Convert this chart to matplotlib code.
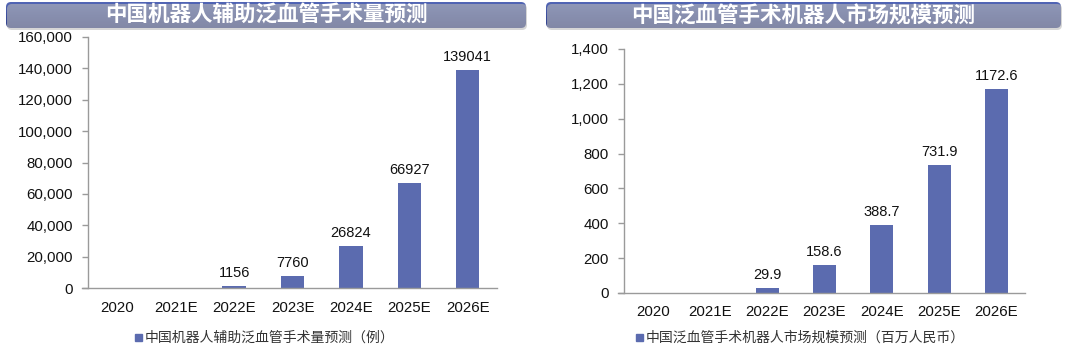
import matplotlib
matplotlib.use("Agg")
import matplotlib.pyplot as plt
import numpy as np
from matplotlib.patches import FancyBboxPatch, Rectangle
from matplotlib.ticker import FuncFormatter
from matplotlib.colors import LinearSegmentedColormap

categories = ["2020", "2021E", "2022E", "2023E", "2024E", "2025E", "2026E"]
surgery_volume = [None, None, 1156, 7760, 26824, 66927, 139041]
market_size = [None, None, 29.9, 158.6, 388.7, 731.9, 1172.6]
surgery_labels = ["", "", "1156", "7760", "26824", "66927", "139041"]
market_labels = ["", "", "29.9", "158.6", "388.7", "731.9", "1172.6"]

title_left = "中国机器人辅助泛血管手术量预测"
title_right = "中国泛血管手术机器人市场规模预测"
legend_left = "中国机器人辅助泛血管手术量预测（例）"
legend_right = "中国泛血管手术机器人市场规模预测（百万人民币）"

W, H = 1080, 351
BAR = "#5B6BAF"
NUM_FONT = ["Liberation Sans", "DejaVu Sans"]
CJK = ["Noto Sans CJK SC", "DejaVu Sans"]

fig = plt.figure(figsize=(W / 100, H / 100), dpi=100)
fig.patch.set_facecolor("white")


def px_rect(x0, y0, x1, y1):
    return [x0 / W, (H - y1) / H, (x1 - x0) / W, (y1 - y0) / H]


def draw_panel(rect, values, labels, ymax, step, fmt, legend_text, leg_x):
    ax = fig.add_axes(px_rect(*rect))
    x = np.arange(len(categories))
    vals = [np.nan if v is None else v for v in values]
    ax.bar(x, vals, width=0.4, color=BAR, zorder=2)
    for xi, v, lab in zip(x, vals, labels):
        if lab:
            ax.text(xi, v + ymax * 0.025, lab, ha="center", va="bottom",
                    fontsize=10.5, family=NUM_FONT, color="#111111")
    ax.set_xlim(-0.5, len(categories) - 0.5)
    ax.set_ylim(0, ymax)
    ax.set_yticks(np.arange(0, ymax + step / 2, step))
    ax.yaxis.set_major_formatter(FuncFormatter(fmt))
    ax.set_xticks(x)
    ax.set_xticklabels(categories)
    for sp in ["top", "right"]:
        ax.spines[sp].set_visible(False)
    for sp in ["left", "bottom"]:
        ax.spines[sp].set_color("#9a9a9a")
        ax.spines[sp].set_linewidth(1.0)
    ax.spines["bottom"].set_bounds(-0.5 - 0.1, len(categories) - 0.5)
    ax.tick_params(axis="y", direction="out", length=4, width=1, color="#9a9a9a",
                   labelsize=10.8, labelcolor="#111111", pad=7)
    ax.tick_params(axis="x", length=0, labelsize=10.8, labelcolor="#111111", pad=9)
    for t in ax.get_xticklabels() + ax.get_yticklabels():
        t.set_family(NUM_FONT)
    # legend
    fig.patches.append(Rectangle(((leg_x - 3) / W, (H - 341) / H), 7 / W, 7 / H,
                                 transform=fig.transFigure, color=BAR))
    fig.text((leg_x + 7) / W, (H - 338) / H, legend_text, fontsize=10,
             family=CJK, color="#333333", va="center", ha="left")
    return ax


draw_panel((88, 37, 497, 288), surgery_volume, surgery_labels, 160000, 20000,
           lambda v, p: f"{int(v):,}", legend_left, 138)
draw_panel((624, 49, 1025, 293), market_size, market_labels, 1400, 200,
           lambda v, p: f"{int(v):,}", legend_right, 639)

# Banners
ov = fig.add_axes([0, 0, 1, 1], zorder=5)
ov.set_xlim(0, W)
ov.set_ylim(H, 0)
ov.axis("off")
ov.patch.set_alpha(0)

grad = np.linspace(0, 1, 64).reshape(-1, 1)
cmap = LinearSegmentedColormap.from_list("ban", ["#5266B6", "#3C4E9E", "#2E3D88"])

for (x0, x1, title) in [(6, 526, title_left), (546, 1061, title_right)]:
    y0, y1 = 2, 28
    shadow = FancyBboxPatch((x0 + 1, y0 + 2), x1 - x0, y1 - y0,
                            boxstyle="round,pad=0,rounding_size=5",
                            fc="#bbbbbb", ec="none", alpha=0.6)
    ov.add_patch(shadow)
    box = FancyBboxPatch((x0, y0), x1 - x0, y1 - y0,
                         boxstyle="round,pad=0,rounding_size=5",
                         fc="none", ec="none")
    ov.add_patch(box)
    im = ov.imshow(grad, extent=(x0, x1, y1, y0), cmap=cmap, aspect="auto",
                   interpolation="bilinear")
    im.set_clip_path(box)
    ov.text((x0 + x1) / 2, (y0 + y1) / 2 + 0.5, title, ha="center", va="center",
            color="white", fontsize=15.5, fontweight="heavy", family=CJK)

ov.set_xlim(0, W)
ov.set_ylim(H, 0)

fig.savefig("out.png", dpi=100, facecolor="white")
